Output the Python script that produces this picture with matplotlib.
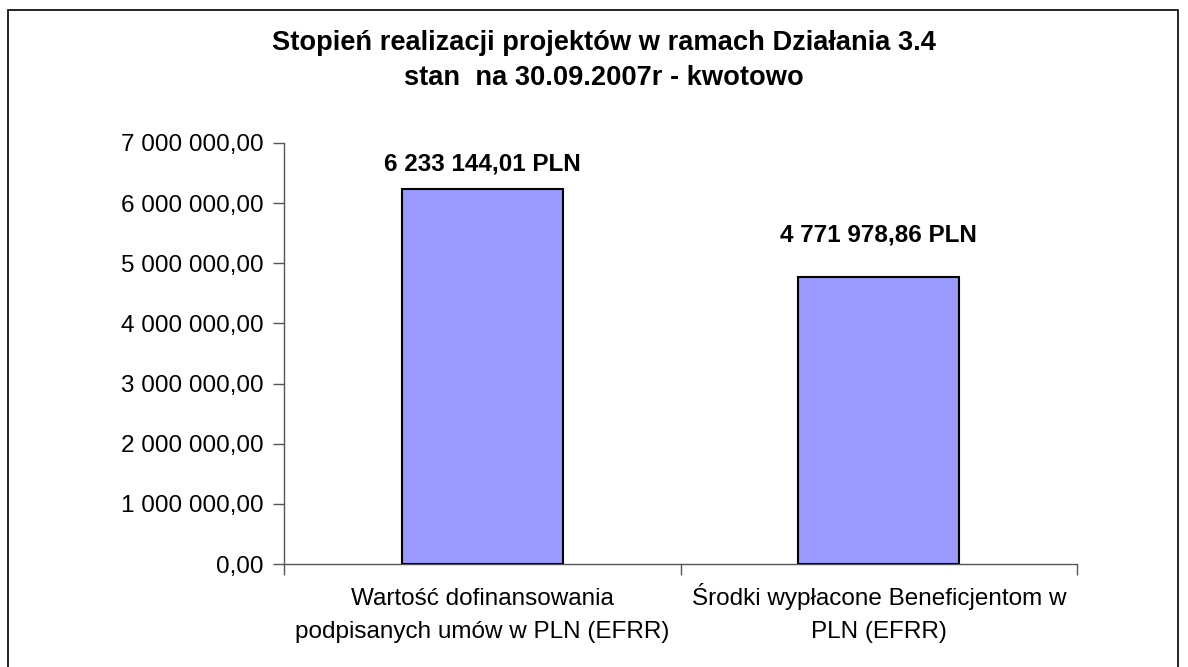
import matplotlib
matplotlib.use("Agg")
import matplotlib.pyplot as plt
from matplotlib.patches import Rectangle
from matplotlib.ticker import FuncFormatter, MultipleLocator

plt.rcParams['font.family'] = ['Liberation Sans', 'DejaVu Sans']

categories = ['Wartość dofinansowania\npodpisanych umów w PLN (EFRR)',
              'Środki wypłacone Beneficjentom w\nPLN (EFRR)']
values = [6233144.01, 4771978.86]
label_offsets = [18, 30]  # points above bar top, as in the original layout


def pl_fmt(v, pos=None):
    s = f"{v:,.2f}"
    return s.replace(",", " ").replace(".", ",")


fig = plt.figure(figsize=(11.88, 6.67), dpi=100)
ax = fig.add_axes([284 / 1188, 1 - 564 / 667, (1077 - 284) / 1188, (564 - 143) / 667])

x = [0.5, 1.5]
ax.bar(x, values, width=0.405, color='#9999ff', edgecolor='black', linewidth=1.5, zorder=3)
for xi, v, off in zip(x, values, label_offsets):
    ax.annotate(pl_fmt(v) + ' PLN', (xi, v), xytext=(0, off), textcoords='offset points',
                ha='center', va='center', fontsize=17.5, fontweight='bold')

ax.set_xlim(0, 2)
ax.set_ylim(0, 7000000)
ax.yaxis.set_major_locator(MultipleLocator(1000000))
ax.yaxis.set_major_formatter(FuncFormatter(pl_fmt))
ax.set_xticks([0, 1, 2])
ax.set_xticklabels([])
ax.set_xticks(x, minor=True)
ax.set_xticklabels(categories, minor=True, fontsize=17.5, linespacing=1.65, va='baseline')
ax.tick_params(axis='x', which='minor', length=0, pad=53)
ax.tick_params(axis='x', which='major', length=8, width=1, color='#555555')
ax.tick_params(axis='y', length=8, width=1, color='#555555', labelsize=17.5, pad=7)
for s in ['top', 'right']:
    ax.spines[s].set_visible(False)
for s in ['left', 'bottom']:
    ax.spines[s].set_color('#555555')
    ax.spines[s].set_linewidth(1)

fig.text(604 / 1188, 1 - 43 / 667, 'Stopień realizacji projektów w ramach Działania 3.4',
         ha='center', va='center', fontsize=19.6, fontweight='bold')
fig.text(604 / 1188, 1 - 78 / 667, 'stan  na 30.09.2007r - kwotowo',
         ha='center', va='center', fontsize=19.6, fontweight='bold')

fig.patches.append(Rectangle((8 / 1188, -0.05), (1178 - 8) / 1188, 1.05 - 10 / 667,
                             transform=fig.transFigure, fill=False,
                             edgecolor='black', linewidth=1.2))

fig.savefig('out.png', dpi=100)
